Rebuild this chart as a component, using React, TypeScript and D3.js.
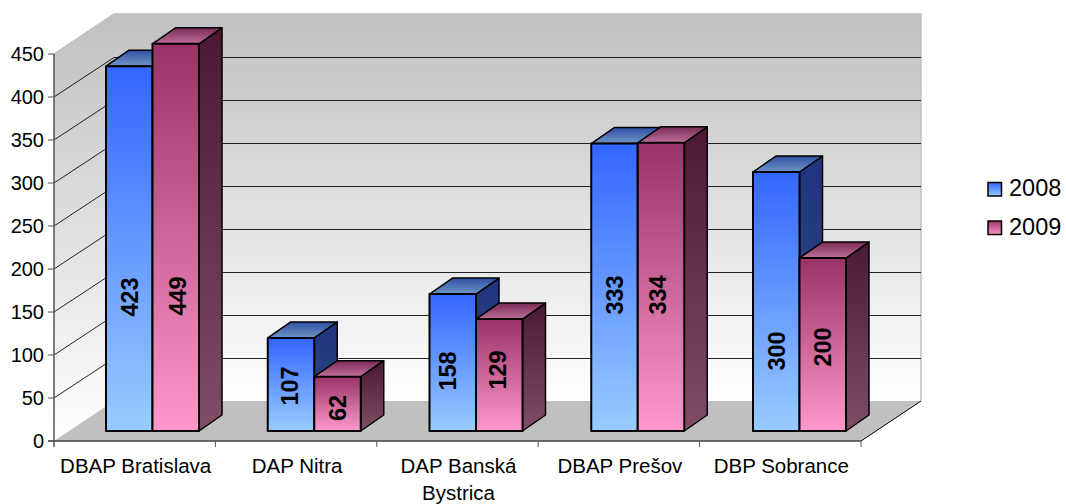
import React from "react";
import * as d3 from "d3";

const categories = ["DBAP Bratislava", "DAP Nitra", "DAP Banská Bystrica", "DBAP Prešov", "DBP Sobrance"];
const seriesNames = ["2008", "2009"];
const values2008 = [423, 107, 158, 333, 300];
const values2009 = [449, 62, 129, 334, 200];
const yTicks = [0, 50, 100, 150, 200, 250, 300, 350, 400, 450];

const font = "'Liberation Sans', Arial, sans-serif";
const DX = 60, DY = -40;
const x0 = 54, x1 = 861, y0 = 441, yTop = 54;
const barDX = 23, barDY = -16;
const floorDY = -10;
// label placement relative to the bar, in px, per series and category
const liftA = [134, 45, 60, 136, 80];
const liftB = [135, 23, 61, 136, 84];
const shiftA = [0, -2, -5.75, -0.5, 0];
const shiftB = [1.5, 0, -2, -4, -0.75];

const pal = [
  { front: ["#3366ff", "#99ccff"], side: ["#1f337f", "#30507f"], top: ["#2f4fa5", "#6f96c4"] },
  { front: ["#993366", "#ff99cc"], side: ["#4c1933", "#7f4d66"], top: ["#7a2a55", "#bf7099"] },
];

export default function App() {
  const xs = d3.scaleBand<string>().domain(categories).range([x0, x1]).padding(0);
  const xBars = d3.scaleBand<string>().domain(categories).range([106, 106 + 5 * 161.75]).padding(0);
  const ys = d3.scaleLinear().domain([0, 450]).range([y0, yTop]);
  const bw = 46.5;
  const all = categories.flatMap((c, i) => [
    { c, i, s: 0, v: values2008[i], lift: liftA[i], shift: shiftA[i] },
    { c, i, s: 1, v: values2009[i], lift: liftB[i], shift: shiftB[i] },
  ]);
  const grad = (id: string, cols: string[]) => (
    <linearGradient id={id} x1="0" y1="0" x2="0" y2="1" key={id}>
      <stop offset="0" stopColor={cols[0]} />
      <stop offset="1" stopColor={cols[1]} />
    </linearGradient>
  );
  const poly = (p: number[][]) => p.map((q) => q.join(",")).join(" ");
  return (
    <svg width={1066} height={504} style={{ position: "absolute", left: 0, top: 0 }} fontFamily={font}>
      <defs>
        <linearGradient id="wall" x1="0" y1="0" x2="0" y2="1">
          <stop offset="0" stopColor="#c0c0c0" />
          <stop offset="1" stopColor="#ffffff" />
        </linearGradient>
        {pal.flatMap((p, i) => [grad(`f${i}`, p.front), grad(`s${i}`, p.side), grad(`t${i}`, p.top)])}
      </defs>
      {/* walls */}
      <polygon points={poly([[x0, yTop], [x0 + DX, yTop + DY], [x0 + DX, y0 + DY], [x0, y0]])} fill="url(#wall)" />
      <rect x={x0 + DX} y={yTop + DY} width={x1 - x0} height={y0 - yTop} fill="url(#wall)" />
      <polyline points={poly([[x0, yTop], [x0 + DX, yTop + DY], [x1 + DX, yTop + DY], [x1 + DX, y0 + DY]])} fill="none" stroke="#c0c0c0" strokeWidth={1.5} />
      {/* floor */}
      <polygon points={poly([[x0, y0], [x1, y0], [x1 + DX, y0 + DY], [x0 + DX, y0 + DY]])} fill="#c0c0c0" />
      {/* grid */}
      {yTicks.slice(1, -1).map((t) => (
        <polyline key={t} points={poly([[x0, ys(t)], [x0 + DX, ys(t) + DY + 0.5], [x1 + DX, ys(t) + DY + 0.5]])} fill="none" stroke="#000" strokeWidth={1} opacity={0.85} />
      ))}
      <line x1={x1} y1={y0} x2={x1 + DX} y2={y0 + DY} stroke="#000" />
      {/* axes */}
      <line x1={x0} y1={yTop} x2={x0} y2={y0 + 6} stroke="#555" strokeWidth={1.5} />
      <line x1={x0 - 6} y1={y0} x2={x1} y2={y0} stroke="#444" strokeWidth={1.5} />
      {yTicks.map((t) => (
        <g key={t}>
          <line x1={x0 - 6} y1={ys(t)} x2={x0} y2={ys(t)} stroke="#555" strokeWidth={1} />
          <text x={44} y={ys(t) + 6.5} textAnchor="end" fontSize={20} fill="#000">{t}</text>
        </g>
      ))}
      {categories.map((c) => (
        <line key={c} x1={(xs(c) as number) + xs.bandwidth()} y1={y0} x2={(xs(c) as number) + xs.bandwidth()} y2={y0 + 6} stroke="#555" />
      ))}
      {/* bars */}
      {all.map((b) => {
        const bx = (xBars(b.c) as number) + b.s * bw;
        const top = ys(b.v) + floorDY - 1;
        const base = y0 + floorDY;
        return (
          <g key={b.c + b.s} stroke="#000" strokeWidth={2} strokeLinejoin="round">
            <polygon points={poly([[bx + bw, top], [bx + bw + barDX, top + barDY], [bx + bw + barDX, base + barDY], [bx + bw, base]])} fill={`url(#s${b.s})`} strokeWidth={1.5} />
            <polygon points={poly([[bx, top], [bx + barDX, top + barDY], [bx + bw + barDX, top + barDY], [bx + bw, top]])} fill={`url(#t${b.s})`} strokeWidth={1.5} />
            <rect x={bx} y={top} width={bw} height={base - top} fill={`url(#f${b.s})`} />
            <text transform={`translate(${bx + bw / 2 + b.shift + 8.5},${base - b.lift}) rotate(-90)`} textAnchor="middle" fontSize={23.5} fontWeight="bold" fill="#000" stroke="none">{b.v}</text>
          </g>
        );
      })}
      {/* category labels */}
      {categories.map((c) => {
        const cx = (xs(c) as number) + xs.bandwidth() / 2 + 1;
        const parts = c === "DAP Banská Bystrica" ? ["DAP Banská", "Bystrica"] : [c];
        return parts.map((p, k) => (
          <text key={p} x={cx} y={473 + k * 27} textAnchor="middle" fontSize={20.5} fill="#000">{p}</text>
        ));
      })}
      {/* legend */}
      {seriesNames.map((s, i) => (
        <g key={s}>
          <rect x={988} y={182.5 + i * 38.5} width={13.5} height={13.5} fill={`url(#f${i})`} stroke="#000" strokeWidth={1.5} />
          <text x={1009} y={196 + i * 39} fontSize={23.5} fill="#000">{s}</text>
        </g>
      ))}
    </svg>
  );
}
